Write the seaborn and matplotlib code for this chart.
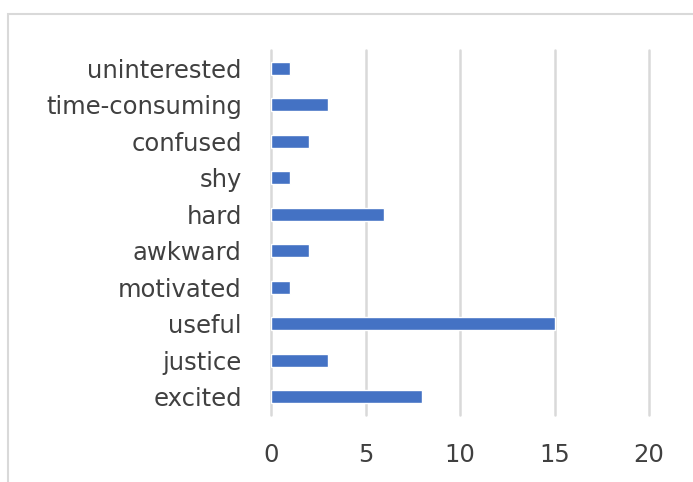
import matplotlib
matplotlib.use("Agg")
import matplotlib.pyplot as plt
import seaborn as sns
import pandas as pd
from matplotlib.patches import Rectangle

categories = ["uninterested", "time-consuming", "confused", "shy", "hard",
              "awkward", "motivated", "useful", "justice", "excited"]
counts = [1, 3, 2, 1, 6, 2, 1, 15, 3, 8]
xticks = [0, 5, 10, 15, 20]

df = pd.DataFrame({"word": categories, "count": counts})

sns.set_theme(style="white")
plt.rcParams['font.family'] = ['DejaVu Sans']

fig = plt.figure(figsize=(6.93, 4.82), dpi=100)
W, H = 693, 482
ax = fig.add_axes([271 / W, 1 - 415 / H, (649 - 271) / W, (415 - 50) / H])

sns.barplot(data=df, x="count", y="word", order=categories, orient="h",
            color="#4472C4", width=0.35, ax=ax, saturation=1)

ax.set_xlim(0, 20)
ax.set_xticks(xticks)
ax.set_ylim(9.5, -0.5)
ax.set_xlabel("")
ax.set_ylabel("")
ax.grid(axis="x", color="#d9d9d9", linewidth=1.8)
for gl in ax.get_xgridlines():
    gl.set_clip_on(False)
ax.set_axisbelow(True)
for s in ax.spines.values():
    s.set_visible(False)
ax.tick_params(axis="y", length=0, pad=21, labelsize=17.5, labelcolor="#404040")
ax.tick_params(axis="x", length=0, pad=20, labelsize=17.5, labelcolor="#404040")

fig.patches.append(Rectangle((8 / W, -0.1), 1.2, 1 - 14 / H + 0.1,
                             transform=fig.transFigure, fill=False,
                             edgecolor="#d9d9d9", linewidth=1.5, zorder=0))

fig.savefig("out.png", dpi=100)
